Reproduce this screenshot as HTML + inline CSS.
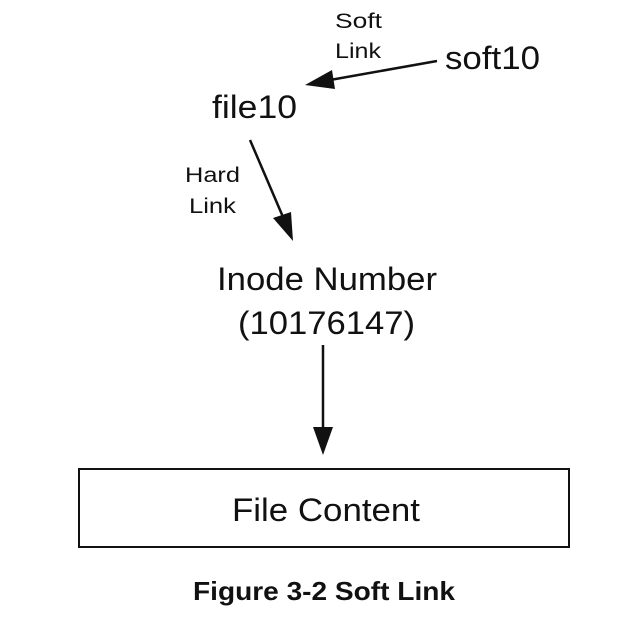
<!DOCTYPE html>
<html><head><style>
html,body{margin:0;padding:0;background:#fff;width:642px;height:620px;overflow:hidden}
svg text{font-family:"Liberation Sans",Arial,sans-serif;fill:#111}
</style></head><body>
<svg width="642" height="620" viewBox="0 0 642 620" xmlns="http://www.w3.org/2000/svg">
<text x="335" y="28" font-size="21" textLength="47" lengthAdjust="spacingAndGlyphs">Soft</text>
<text x="335" y="58" font-size="21" textLength="46" lengthAdjust="spacingAndGlyphs">Link</text>
<text x="445" y="69" font-size="32" textLength="95" lengthAdjust="spacingAndGlyphs">soft10</text>
<text x="212" y="118" font-size="32" textLength="85" lengthAdjust="spacingAndGlyphs">file10</text>
<text x="185" y="182" font-size="21" textLength="55" lengthAdjust="spacingAndGlyphs">Hard</text>
<text x="189" y="213" font-size="21" textLength="47" lengthAdjust="spacingAndGlyphs">Link</text>
<line x1="437" y1="61" x2="330" y2="80" stroke="#111" stroke-width="2.5"/>
<polygon points="305,85 332,70 335,89" fill="#111"/>
<line x1="250" y1="140" x2="283" y2="217" stroke="#111" stroke-width="2.5"/>
<polygon points="293,241 273,218 291,212" fill="#111"/>
<text x="217" y="290" font-size="32" textLength="220" lengthAdjust="spacingAndGlyphs">Inode Number</text>
<text x="238" y="334" font-size="32" textLength="177" lengthAdjust="spacingAndGlyphs">(10176147)</text>
<line x1="323" y1="345" x2="323" y2="430" stroke="#111" stroke-width="2.5"/>
<polygon points="313,427 333,427 323,455" fill="#111"/>
<rect x="79" y="469" width="490" height="78" fill="none" stroke="#111" stroke-width="2"/>
<text x="232" y="521" font-size="32" textLength="188" lengthAdjust="spacingAndGlyphs">File Content</text>
<text x="193" y="600" font-size="26" font-weight="bold" textLength="262" lengthAdjust="spacingAndGlyphs">Figure 3-2 Soft Link</text>
</svg>
</body></html>
